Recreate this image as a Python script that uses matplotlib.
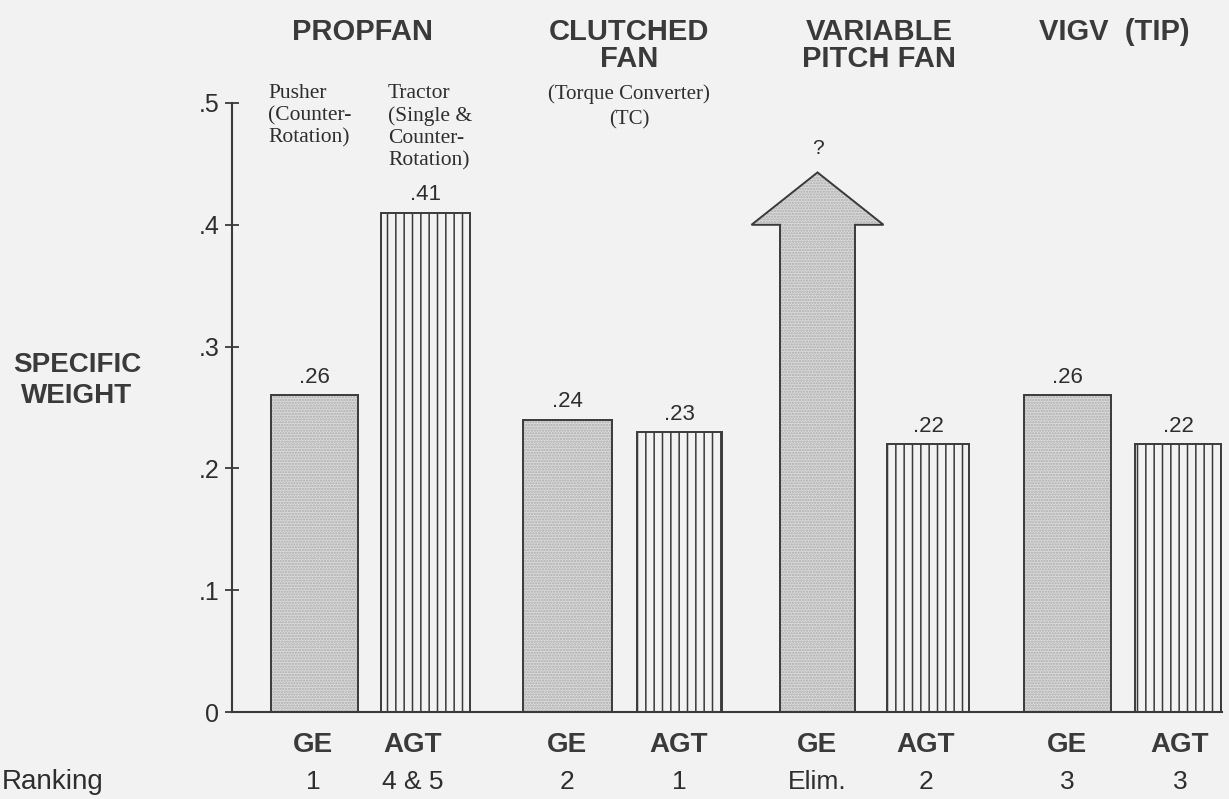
# -*- coding: utf-8 -*-
"""
Specific weight comparison: propfan / clutched fan / variable pitch fan / VIGV
"""
import matplotlib
matplotlib.use("Agg")
import matplotlib.pyplot as plt
from matplotlib.patches import Polygon

# ── data ────────────────────────────────────────────
groups     = ["PROPFAN", "CLUTCHED\nFAN", "VARIABLE\nPITCH FAN", "VIGV  (TIP)"]
makers     = ["GE", "AGT", "GE", "AGT", "GE", "AGT", "GE", "AGT"]
values     = [0.26, 0.41, 0.24, 0.23, None, 0.22, 0.26, 0.22]
labels     = [".26", ".41", ".24", ".23", "?", ".22", ".26", ".22"]
rankings   = ["1", "4 & 5", "2", "1", "Elim.", "2", "3", "3"]
arrow_tip      = 0.443   # variable pitch fan GE: unknown, shown as arrow
arrow_shoulder = 0.400
notes = ["Pusher\n(Counter-\nRotation)",
         "Tractor\n(Single &\nCounter-\nRotation)",
         "(Torque Converter)\n(TC)"]

# ── layout (pixel units of the 1229x799 picture) ────
W, H = 1229, 799
bar_x     = [314.5, 425.5, 567.5, 679.5, 817.5, 928, 1067.5, 1178]
bar_w     = [87, 89, 89, 85, 75, 82, 87, 86]
label_x   = [313, 413, 567, 679, 817, 926, 1067, 1180]
group_x   = [362, 629, 879, 1114]
head_w    = 132

BG     = "#f2f2f2"
EDGE   = "#3a3a3a"
STIP   = "#dadada"
DOTS   = "#acacac"
TXT    = "#2e2e2e"
SANS   = ["Liberation Sans", "DejaVu Sans"]
NARROW = ["Liberation Sans Narrow", "Liberation Sans", "DejaVu Sans"]
SERIF  = ["Liberation Serif", "DejaVu Serif"]

plt.rcParams["hatch.linewidth"] = 1.1

fig = plt.figure(figsize=(W / 100, H / 100), dpi=100, facecolor=BG)
ax = fig.add_axes([232 / W, 87 / H, (W - 232) / W, 609 / H])
ax.set_facecolor(BG)
ax.set_xlim(232, W)
ax.set_ylim(0, 0.5)


def fx(px):
    return px / W


def fy(py):
    return 1 - py / H


# bars
for i, v in enumerate(values):
    if v is None:
        continue
    if makers[i] == "GE":
        # stippled fill: grey face + fine dot hatch, then the outline
        ax.bar(bar_x[i], v, width=bar_w[i], facecolor=STIP, hatch="......",
               edgecolor=DOTS, linewidth=0, zorder=2)
        ax.bar(bar_x[i], v, width=bar_w[i], facecolor="none",
               edgecolor=EDGE, linewidth=1.4, zorder=3)
    else:
        ax.bar(bar_x[i], v, width=bar_w[i], facecolor=BG, hatch="||",
               edgecolor=EDGE, linewidth=1.4, zorder=2)
    ax.text(bar_x[i], v + 0.006, labels[i], ha="center", va="bottom",
            fontsize=16, family=SANS, color=TXT, fontweight="light")

# arrow for the variable pitch fan (GE)
i = values.index(None)
cx, sw = bar_x[i], bar_w[i] / 2
pts = [(cx - sw, 0), (cx - sw, arrow_shoulder), (cx - head_w / 2, arrow_shoulder),
       (cx, arrow_tip), (cx + head_w / 2, arrow_shoulder),
       (cx + sw, arrow_shoulder), (cx + sw, 0)]
ax.add_patch(Polygon(pts, closed=True, facecolor=STIP, edgecolor=DOTS,
                     hatch="......", linewidth=0, zorder=2, clip_on=False))
ax.add_patch(Polygon(pts, closed=True, facecolor="none", edgecolor=EDGE,
                     linewidth=1.4, zorder=3, clip_on=False))
ax.text(cx, arrow_tip + 0.012, labels[i], ha="center", va="bottom",
        fontsize=15, family=SANS, color=TXT)

# axes styling
for s in ["top", "right"]:
    ax.spines[s].set_visible(False)
ax.spines["left"].set_color(EDGE)
ax.spines["left"].set_linewidth(1.5)
ax.spines["bottom"].set_color(EDGE)
ax.spines["bottom"].set_linewidth(1.5)
ax.spines["bottom"].set_bounds(232, 1222)
ax.set_xticks([])
ax.set_yticks([0, 0.1, 0.2, 0.3, 0.4, 0.5])
ax.set_yticklabels(["0", ".1", ".2", ".3", ".4", ".5"], family=SANS,
                   fontsize=18, color=TXT)
ax.tick_params(axis="y", direction="inout", length=10, width=1.3,
               color=EDGE, pad=4)

fig.text(fx(77), fy(380), "SPECIFIC\nWEIGHT", ha="center", va="center",
         fontsize=20, fontweight="bold", family=SANS, color="#3a3a3a",
         linespacing=1.25)

# group headers
for gx, g in zip(group_x, groups):
    fig.text(fx(gx), fy(18), g, ha="center", va="top", fontsize=21,
             fontweight="bold", family=SANS, color="#3a3a3a",
             linespacing=0.95)

# sub notes
fig.text(fx(268), fy(84), notes[0], ha="left", va="top", fontsize=15.5,
         family=SERIF, color=TXT, linespacing=1.22)
fig.text(fx(388), fy(84), notes[1], ha="left", va="top", fontsize=15.5,
         family=SERIF, color=TXT, linespacing=1.22)
fig.text(fx(629), fy(84), notes[2], ha="center", va="top", fontsize=15,
         family=SERIF, color=TXT, linespacing=1.45)

# maker labels and rankings
for lx, m, r in zip(label_x, makers, rankings):
    fig.text(fx(lx), fy(745), m, ha="center", va="center", fontsize=20,
             fontweight="bold", family=NARROW, color="#3a3a3a")
    fig.text(fx(lx), fy(782), r, ha="center", va="center", fontsize=19,
             family=NARROW, color=TXT)
fig.text(fx(2), fy(782), "Ranking", ha="left", va="center", fontsize=20,
         family=NARROW, color=TXT)

fig.savefig("out.png", dpi=100, facecolor=BG)
